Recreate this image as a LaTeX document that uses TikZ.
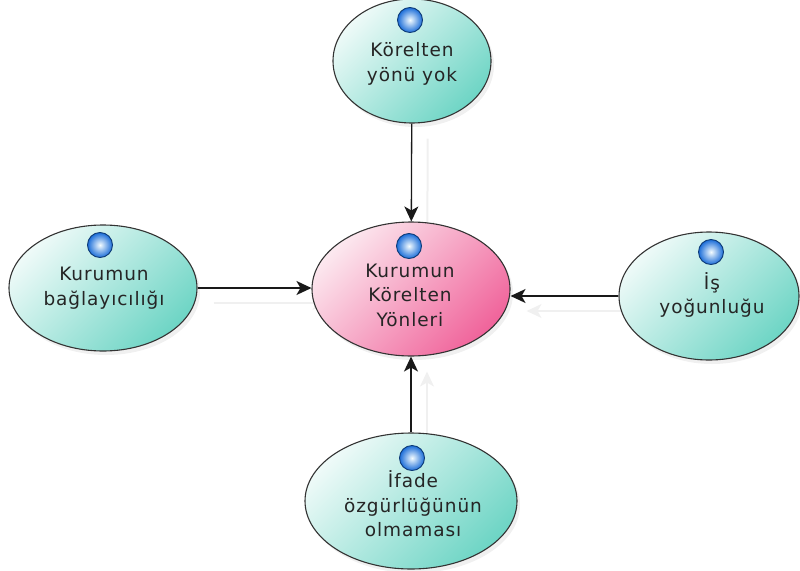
\documentclass[tikz,border=0pt]{standalone}
\usepackage{fontspec}
\setmainfont{DejaVu Sans}[LetterSpace=5]
\usetikzlibrary{shapes.geometric,arrows.meta,shadows}

\definecolor{tealLight}{HTML}{EEFAF8}
\definecolor{tealDark}{HTML}{6ED5C5}
\definecolor{pinkLight}{HTML}{FCE8EF}
\definecolor{pinkDark}{HTML}{F0649B}
\definecolor{ballOuter}{HTML}{1A6CD8}
\definecolor{ballInner}{HTML}{F4FCFF}
\definecolor{labelGray}{HTML}{252525}

\pgfdeclarelayer{back}
\pgfsetlayers{back,main}

\begin{document}
\begin{tikzpicture}[x=1pt,y=-1pt,
  topic/.style={ellipse, draw=black!80, line width=1.1pt,
    top color=tealLight, bottom color=tealDark, shading angle=45,
    drop shadow={opacity=0.12, shadow xshift=3pt, shadow yshift=-4pt},
    inner sep=0pt},
  core/.style={topic, top color=pinkLight, bottom color=pinkDark, shading angle=45},
  label/.style={align=center, text=labelGray, font=\fontsize{18.5}{24.5}\selectfont, inner sep=0pt},
  bubble/.style={circle, minimum size=25pt, inner sep=0pt, draw=ballOuter!55!black, line width=0.9pt,
    inner color=ballInner, outer color=ballOuter},
  tip/.style={-{Stealth[length=15pt,width=14pt,inset=4pt]}},
  link/.style={draw=black!90, line width=1.3pt, tip},
  ghost/.style={draw=black!6, line width=2pt, tip, transform canvas={shift={(16,15)}}}
]
\useasboundingbox (0,0) rectangle (800,570);

% ellipses
\node[topic, minimum width=158pt, minimum height=124pt] (top) at (412,61) {};
\node[topic, minimum width=188pt, minimum height=126pt] (left) at (103,288) {};
\node[topic, minimum width=180pt, minimum height=128pt] (right) at (709,296) {};
\node[topic, minimum width=212pt, minimum height=136pt] (bottom) at (411,501) {};
\node[core, minimum width=198pt, minimum height=134pt] (center) at (411,289) {};

% faint connector shadows, behind the ellipses
\begin{pgfonlayer}{back}
\draw[ghost] (top) -- (center);
\draw[ghost] (left.east) -- (center.west |- left.east);
\draw[ghost] (right.west) -- (center.east |- right.west);
\draw[ghost] (bottom) -- (center);
\end{pgfonlayer}

% connectors
\draw[link] (top) -- (center);
\draw[link] (left.east) -- (center.west |- left.east);
\draw[link] (right.west) -- (center.east |- right.west);
\draw[link] (bottom) -- (center);

% markers
\node[bubble] (btop) at (410,20) {};
\node[bubble] (bcenter) at (409,246) {};
\node[bubble] (bleft) at (100,245) {};
\node[bubble] (bright) at (711,252) {};
\node[bubble] (bbottom) at (412,458) {};

% labels
\node[label] (ltop) at (412,64) {Körelten\\yönü yok};
\node[label] (lcenter) at (410,295) {Kurumun\\Körelten\\Yönleri};
\node[label] (lleft) at (104,288) {Kurumun\\bağlayıcılığı};
\node[label] (lright) at (712,295) {İş\\yoğunluğu};
\node[label] (lbottom) at (413,504) {İfade\\özgürlüğünün\\olmaması};
\end{tikzpicture}
\end{document}
